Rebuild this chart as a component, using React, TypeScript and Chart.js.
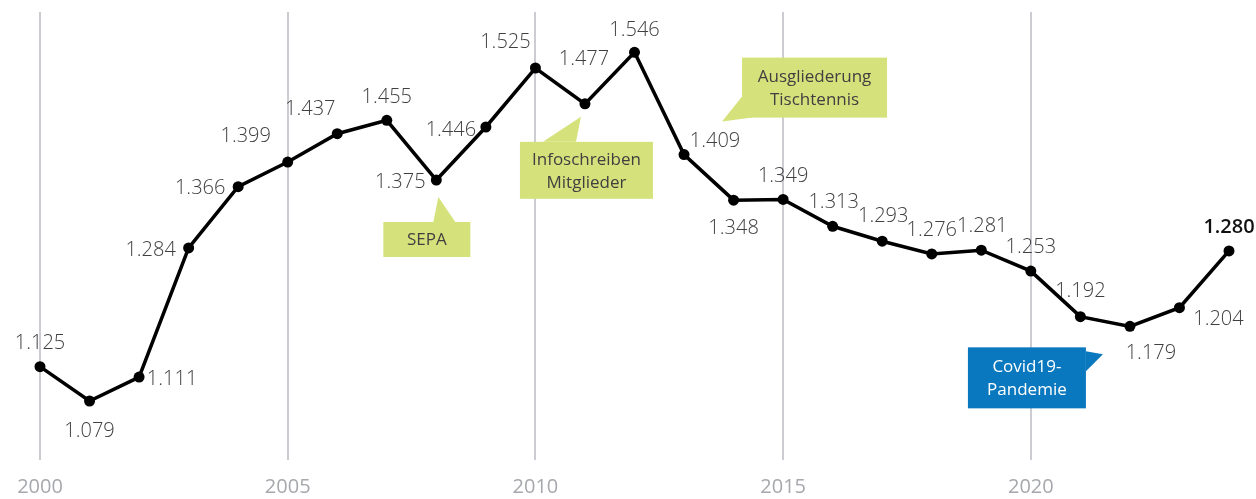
import React, { useEffect, useRef } from "react";
import { Chart, registerables } from "chart.js";

Chart.register(...registerables);

const years = [2000, 2001, 2002, 2003, 2004, 2005, 2006, 2007, 2008, 2009, 2010, 2011, 2012, 2013, 2014, 2015, 2016, 2017, 2018, 2019, 2020, 2021, 2022, 2023, 2024];
const members = [1.125, 1.079, 1.111, 1.284, 1.366, 1.399, 1.437, 1.455, 1.375, 1.446, 1.525, 1.477, 1.546, 1.409, 1.348, 1.349, 1.313, 1.293, 1.276, 1.281, 1.253, 1.192, 1.179, 1.204, 1.280];
const valueLabels = members.map((v) => v.toFixed(3));
const tickYears = [2000, 2005, 2010, 2015, 2020];

// label placement (pixel offsets from the point)
const labelOffsets: [number, number][] = [
  [0, -23], [0, 30], [33, 2], [-38, 2], [-38, 2], [-42, -26], [-27, -24], [0, -23],
  [-36, 2], [-35, 3], [-30, -26], [-1, -45], [0, -22], [31, -13], [0, 28], [0, -23],
  [1, -24], [1, -25], [0, -24], [1, -24], [0, -24], [0, -25], [21, 27], [39, 12], [0, -24],
];

const calloutTexts: string[][] = [
  ["SEPA"],
  ["Infoschreiben", "Mitglieder"],
  ["Ausgliederung", "Tischtennis"],
  ["Covid19-", "Pandemie"],
];
const calloutYears = [2008, 2011, 2013, 2022];

// geometry relative to anchor point: box [dx, dy, w, h], tail triangle points
const calloutGeom = [
  { box: [-53, 42, 87, 35], tail: [[-3, 42], [2, 17], [19, 42]], bg: "#d5e27c", fg: "#404040" },
  { box: [-65, 38, 133, 57], tail: [[-42, 38], [-4, 13], [-9, 38]], bg: "#d5e27c", fg: "#404040" },
  { box: [58, -97, 145, 60], tail: [[58, -58], [38, -33], [68, -37]], bg: "#d5e27c", fg: "#404040" },
  { box: [-162, 21, 118, 61], tail: [[-44, 25], [-27, 28], [-44, 45]], bg: "#0a78be", fg: "#ffffff" },
];

const FONT = "'Segoe UI', 'Open Sans', 'Noto Sans', sans-serif";

const labelsPlugin = {
  id: "valueLabels",
  afterDatasetsDraw(chart: any) {
    const ctx = chart.ctx;
    const meta = chart.getDatasetMeta(0);
    ctx.save();
    ctx.textAlign = "center";
    ctx.textBaseline = "middle";
    meta.data.forEach((pt: any, i: number) => {
      const last = i === members.length - 1;
      ctx.font = `${last ? "600 " : "300 "}20px ${FONT}`;
      ctx.fillStyle = last ? "#111111" : "#404040";
      ctx.fillText(valueLabels[i], pt.x + labelOffsets[i][0], pt.y + labelOffsets[i][1]);
    });
    calloutTexts.forEach((lines, k) => {
      const idx = years.indexOf(calloutYears[k]);
      const pt = meta.data[idx];
      const g = calloutGeom[k];
      const [dx, dy, w, h] = g.box;
      const x = pt.x + dx;
      const y = pt.y + dy;
      ctx.fillStyle = g.bg;
      ctx.fillRect(x, y, w, h);
      ctx.beginPath();
      ctx.moveTo(pt.x + g.tail[0][0], pt.y + g.tail[0][1]);
      ctx.lineTo(pt.x + g.tail[1][0], pt.y + g.tail[1][1]);
      ctx.lineTo(pt.x + g.tail[2][0], pt.y + g.tail[2][1]);
      ctx.closePath();
      ctx.fill();
      ctx.fillStyle = g.fg;
      ctx.font = `17px ${FONT}`;
      const lh = 23;
      const cy = y + h / 2 + 1;
      lines.forEach((t, j) => {
        ctx.fillText(t, x + w / 2, cy + (j - (lines.length - 1) / 2) * lh);
      });
    });
    ctx.restore();
  },
};

export default function App() {
  const ref = useRef<HTMLCanvasElement | null>(null);
  useEffect(() => {
    document.body.style.margin = "0";
    const chart = new Chart(ref.current!, {
      type: "line",
      data: {
        labels: years,
        datasets: [
          {
            data: years.map((y, i) => ({ x: y, y: members[i] })),
            borderColor: "#000000",
            borderWidth: 3.5,
            backgroundColor: "#000000",
            pointRadius: 5.5,
            pointBorderWidth: 0,
            pointBackgroundColor: "#000000",
            tension: 0,
            clip: false,
          },
        ],
      },
      options: {
        animation: false,
        responsive: false,
        maintainAspectRatio: false,
        layout: { padding: { left: 40, right: 27, top: 12, bottom: 0 } },
        plugins: { legend: { display: false }, tooltip: { enabled: false } },
        scales: {
          x: {
            type: "linear",
            min: 2000,
            max: 2024,
            grid: { color: "#cbcdd2", lineWidth: 2, drawTicks: false },
            border: { display: false },
            afterBuildTicks: (axis: any) => {
              axis.ticks = tickYears.map((v) => ({ value: v }));
            },
            ticks: {
              padding: 15,
              color: "#a6a8ad",
              font: { family: FONT, size: 20 },
              callback: (v: any) => String(v),
              maxRotation: 0,
            },
            afterFit: (axis: any) => {
              axis.height = 39;
              axis.paddingLeft = 0;
              axis.paddingRight = 0;
            },
          },
          y: { display: false, min: 1.0, max: 1.6 },
        },
      },
      plugins: [labelsPlugin],
    });
    return () => chart.destroy();
  }, []);
  return (
    <div style={{ width: 1256, height: 499 }}>
      <canvas ref={ref} width={1256} height={499} style={{ display: "block" }} />
    </div>
  );
}
